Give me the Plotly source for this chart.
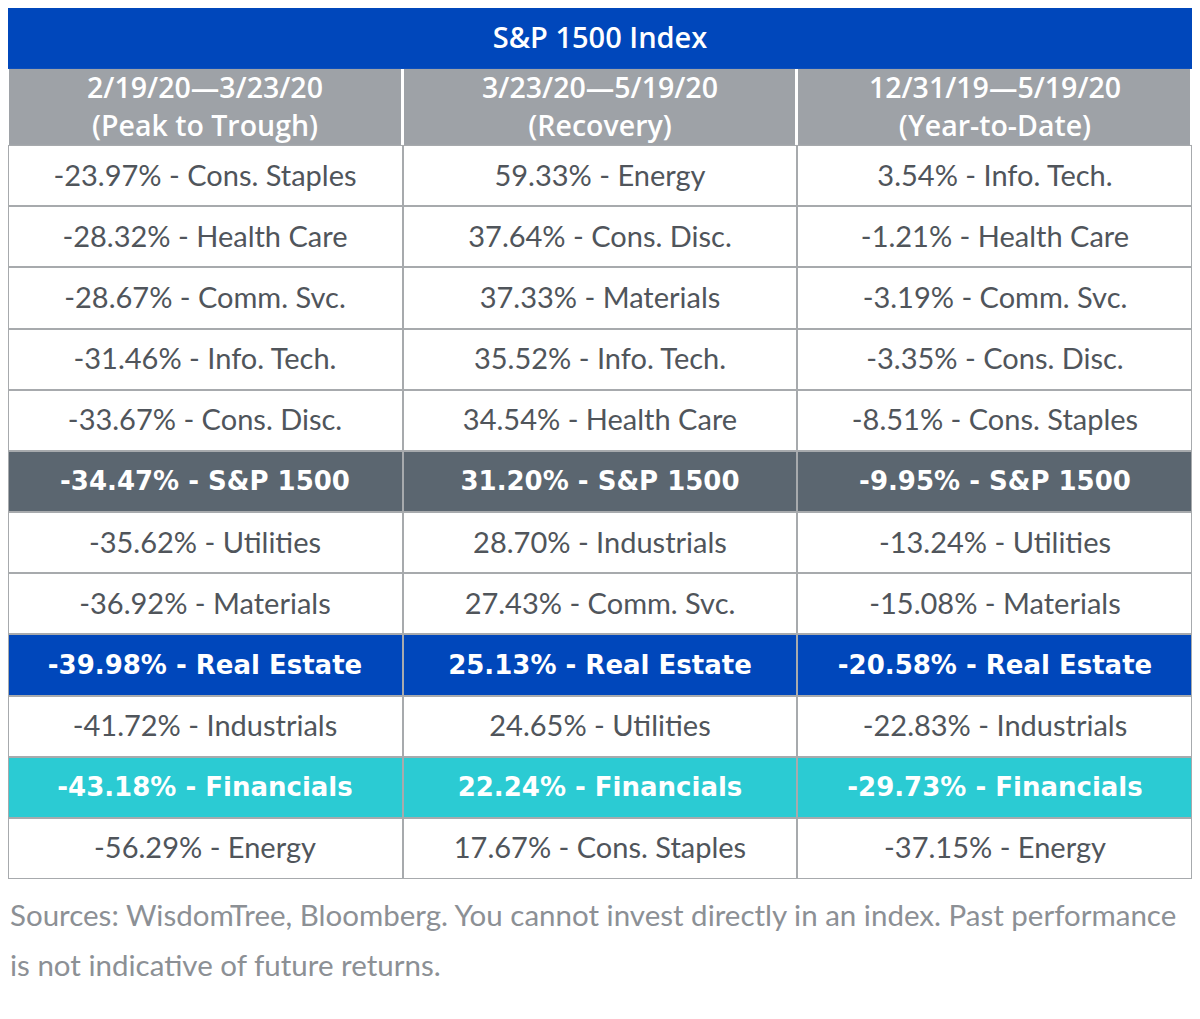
import plotly.graph_objects as go

title_text = "S&P 1500 Index"

periods = ["2/19/20\u20143/23/20", "3/23/20\u20145/19/20", "12/31/19\u20145/19/20"]
period_labels = ["(Peak to Trough)", "(Recovery)", "(Year-to-Date)"]

peak_sectors = ["Cons. Staples", "Health Care", "Comm. Svc.", "Info. Tech.", "Cons. Disc.",
                "S&P 1500", "Utilities", "Materials", "Real Estate", "Industrials",
                "Financials", "Energy"]
peak_returns = [-23.97, -28.32, -28.67, -31.46, -33.67, -34.47, -35.62, -36.92, -39.98,
                -41.72, -43.18, -56.29]

recovery_sectors = ["Energy", "Cons. Disc.", "Materials", "Info. Tech.", "Health Care",
                    "S&P 1500", "Industrials", "Comm. Svc.", "Real Estate", "Utilities",
                    "Financials", "Cons. Staples"]
recovery_returns = [59.33, 37.64, 37.33, 35.52, 34.54, 31.20, 28.70, 27.43, 25.13, 24.65,
                    22.24, 17.67]

ytd_sectors = ["Info. Tech.", "Health Care", "Comm. Svc.", "Cons. Disc.", "Cons. Staples",
               "S&P 1500", "Utilities", "Materials", "Real Estate", "Industrials",
               "Financials", "Energy"]
ytd_returns = [3.54, -1.21, -3.19, -3.35, -8.51, -9.95, -13.24, -15.08, -20.58, -22.83,
               -29.73, -37.15]

footnote_lines = [
    "Sources: WisdomTree, Bloomberg. You cannot invest directly in an index. Past performance",
    "is not indicative of future returns.",
]

# --- styling ---
BLUE = "#0047BB"
HEADER_GRAY = "#9EA2A7"
DARK_GRAY = "#5B6670"
TEAL = "#2BCBD3"
BORDER = "#A7AAAD"
TEXT = "#50555B"
FONT = "Lato, 'Open Sans', sans-serif"
BOLD_FONT = "'Open Sans', Lato, sans-serif"
WIDE_BOLD = "'DejaVu Sans', 'Open Sans', sans-serif"

# row highlight groups keyed by sector name
highlight = {"S&P 1500": DARK_GRAY, "Real Estate": BLUE, "Financials": TEAL}

columns = [
    (peak_sectors, peak_returns),
    (recovery_sectors, recovery_returns),
    (ytd_sectors, ytd_returns),
]
n_rows = len(peak_sectors)

TITLE_H = 61
HEADER_H = 76
ROW_H = 61.2
y_title = [0, TITLE_H]
y_header = [TITLE_H, TITLE_H + HEADER_H]
y_body = [TITLE_H + HEADER_H + i * ROW_H for i in range(n_rows + 1)]
x_cols = [0, 1, 2, 3]


def solid(color):
    return [[0, color], [1, color]]


fig = go.Figure()

# title row (one cell spanning the three columns)
fig.add_trace(go.Heatmap(
    x=[0, 3], y=y_title, z=[[1]], text=[[title_text]],
    texttemplate="%{text}",
    textfont=dict(family=BOLD_FONT, size=29, weight=600, color="white"),
    colorscale=solid(BLUE), showscale=False, hoverinfo="skip",
))

# white underlay so header dividers look white
fig.add_trace(go.Heatmap(
    x=[0, 3], y=y_header, z=[[1]], colorscale=solid("white"),
    showscale=False, hoverinfo="skip",
))

fig.add_trace(go.Heatmap(
    x=x_cols, y=y_header, z=[[1, 1, 1]],
    text=[[f"{p}<br>{l}" for p, l in zip(periods, period_labels)]],
    texttemplate="%{text}",
    textfont=dict(family=BOLD_FONT, size=28.5, weight=600, color="white"),
    colorscale=solid(HEADER_GRAY), showscale=False, hoverinfo="skip",
    xgap=3, ygap=0,
))

# body cells: one trace per fill style
groups = [("plain", "white", TEXT)] + [(name, c, "white") for name, c in highlight.items()]
for name, fill, font_color in groups:
    z, text = [], []
    for r in range(n_rows):
        z_row, t_row = [], []
        for sectors, values in columns:
            sector, value = sectors[r], values[r]
            is_hl = sector in highlight
            match = (sector == name) if name != "plain" else not is_hl
            if match:
                z_row.append(1)
                t_row.append(f"{value:.2f}% - {sector}")
            else:
                z_row.append(None)
                t_row.append("")
        z.append(z_row)
        text.append(t_row)
    if name == "plain":
        tf = dict(family=FONT, size=29, color=font_color)
    else:
        tf = dict(family=WIDE_BOLD, size=26, weight=600, color=font_color)
    fig.add_trace(go.Heatmap(
        x=x_cols, y=y_body, z=z, text=text, texttemplate="%{text}",
        textfont=tf,
        colorscale=solid(fill), showscale=False, hoverinfo="skip",
        xgap=2, ygap=2,
    ))

# the page body adds an 8px margin all round, so keep the figure inside the window
fig_w, fig_h = 1184, 1000
plot_top = 0
plot_h = y_body[-1]
bottom_margin = fig_h - plot_top - plot_h


def paper_y(px):
    return (plot_top + plot_h - px) / plot_h


for i, line in enumerate(footnote_lines):
    fig.add_annotation(
        text=line, xref="paper", yref="paper", x=0, y=paper_y(907 + i * 50),
        xanchor="left", yanchor="middle", showarrow=False,
        font=dict(family=FONT, size=29.5, color="#8C9095"),
    )

fig.update_layout(
    width=fig_w, height=fig_h,
    margin=dict(l=0, r=0, t=plot_top, b=bottom_margin),
    paper_bgcolor="white", plot_bgcolor=BORDER,
    xaxis=dict(range=[0, 3], visible=False, fixedrange=True),
    yaxis=dict(range=[plot_h, 0], visible=False, fixedrange=True),
    showlegend=False,
)

fig.write_html("out.html")
